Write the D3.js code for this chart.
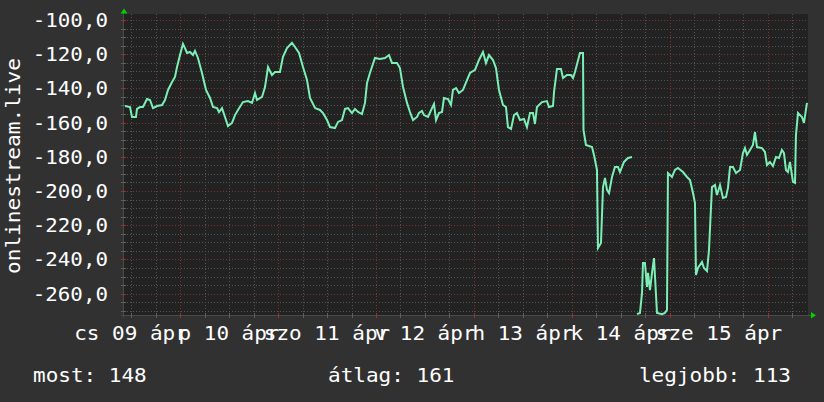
<!DOCTYPE html>
<html><head><meta charset="utf-8">
<script src="https://cdn.jsdelivr.net/npm/d3@7/dist/d3.min.js"></script>
<style>html,body{margin:0;padding:0;background:#313131;}svg{display:block}</style>
</head><body><svg id="c" width="824" height="402"></svg>
<script>
// ---- data ----
const startTime = new Date(2015, 3, 9, 10, 17);
const endTime = new Date(2015, 3, 16, 9, 48);
const hours = [0.24,1.47,1.96,2.94,3.18,3.92,4.65,5.63,6.37,7.10,8.08,9.31,10.04,10.78,11.76,12.49,12.98,13.71,14.45,14.94,15.43,16.16,16.90,17.39,18.12,19.10,20.08,21.06,21.80,22.78,23.27,24.00,24.73,25.47,26.45,27.18,27.92,29.14,30.37,31.35,32.08,32.57,33.80,34.53,35.27,36.24,36.98,38.20,38.94,39.92,41.14,41.88,42.86,43.84,44.82,45.55,46.78,48.00,48.73,49.71,50.45,51.67,52.41,53.39,54.12,54.86,55.84,56.57,57.31,58.29,59.02,59.51,60.24,61.47,62.69,63.92,64.90,65.63,66.86,67.59,68.33,69.31,70.04,70.78,71.76,72.24,72.98,73.47,74.45,75.43,75.92,76.41,77.14,77.88,78.37,79.35,80.08,80.57,81.31,82.04,83.02,84.00,84.73,85.96,86.94,87.92,88.65,89.39,90.37,91.10,91.84,92.82,93.55,94.04,94.78,95.51,96.24,96.98,97.96,98.69,99.43,100.16,100.65,101.14,102.37,103.59,104.08,105.06,105.31,106.04,107.02,107.51,108.49,109.47,109.96,110.45,111.67,112.41,112.53,113.14,114.61,115.10,115.84,116.08,116.82,117.31,117.80,118.29,118.78,119.51,120.24,120.98,121.47,122.45,123.43,124.41,125.0,125.63,126.37,126.86,127.10,127.59,128.08,128.33,128.82,129.31,129.80,130.53,131.76,132.49,132.98,133.22,134.20,134.94,135.67,136.90,137.88,138.61,139.35,139.84,140.08,140.57,141.55,142.04,142.78,143.27,144.00,144.73,145.22,145.96,146.69,147.43,147.92,148.41,149.14,149.88,150.86,151.59,152.08,152.57,153.31,154.04,154.53,155.02,156.24,156.98,157.47,158.20,158.94,159.67,160.41,161.14,161.63,162.12,162.61,163.10,163.84,164.33,164.57,165.06,166.04,166.53,167.27];
const values = [-150.3,-150.9,-156.7,-156.7,-152.0,-150.9,-150.9,-146.2,-146.8,-151.5,-150.3,-149.7,-146.8,-140.9,-136.3,-133.3,-127.5,-120.5,-114.0,-116.4,-119.3,-118.7,-120.5,-118.1,-122.2,-131.0,-140.9,-145.6,-150.9,-151.5,-153.8,-151.5,-156.7,-162.0,-160.2,-155.6,-152.6,-148.0,-147.4,-148.5,-142.7,-146.8,-145.0,-139.2,-127.5,-132.2,-130.4,-130.4,-121.6,-116.4,-113.4,-115.8,-119.3,-127.5,-135.1,-145.6,-151.5,-152.6,-154.4,-158.5,-162.6,-163.2,-159.6,-158.5,-152.0,-151.5,-154.4,-152.0,-153.8,-155.0,-148.5,-136.8,-131.0,-122.2,-122.8,-122.2,-120.5,-125.1,-125.1,-128.1,-139.2,-148.5,-153.8,-158.5,-156.7,-154.4,-153.2,-155.6,-156.7,-151.5,-149.1,-158.5,-154.4,-153.8,-145.6,-146.2,-149.7,-140.9,-139.8,-142.7,-140.9,-135.1,-131.0,-129.2,-123.4,-118.7,-125.1,-120.5,-123.4,-128.1,-140.9,-149.7,-150.9,-162.6,-163.7,-155.6,-154.4,-158.5,-157.9,-162.6,-154.4,-154.4,-160.8,-150.9,-148.0,-147.4,-150.9,-150.3,-142.1,-128.7,-128.7,-133.9,-132.2,-132.2,-133.9,-130.4,-119.3,-119.3,-164.3,-173.1,-174.3,-178.9,-187.7,-233.3,-230.4,-197.7,-192.4,-199.4,-201.2,-191.8,-186.0,-186.0,-188.9,-183.0,-180.7,-180.1,null,-272.0,-271.3,-259.6,-242.1,-242.1,-256.1,-247.9,-257.9,-247.9,-239.2,-271.3,-272.0,-271.3,-269.6,-189.5,-191.8,-187.7,-186.5,-188.9,-191.8,-193.6,-201.2,-207.0,-249.1,-245.0,-241.5,-245.0,-246.8,-234.5,-197.7,-196.5,-202.3,-196.5,-204.1,-203.5,-198.2,-186.0,-186.0,-189.5,-187.7,-177.8,-174.9,-178.9,-176.0,-173.1,-165.5,-174.3,-174.9,-177.2,-184.8,-183.0,-185.4,-180.1,-180.7,-176.0,-177.8,-187.7,-188.9,-183.0,-194.7,-195.3,-167.3,-154.4,-156.7,-160.2,-148.5];
const yTicks = [-260, -240, -220, -200, -180, -160, -140, -120, -100];
const dayLabels = ["cs 09 ápr", "p 10 ápr", "szo 11 ápr", "v 12 ápr", "h 13 ápr", "k 14 ápr", "sze 15 ápr"];
const yTitle = "onlinestream.live";
const legendLabels = ["most", "átlag", "legjobb"];
const legendValues = [148, 161, 113];

// ---- chart ----
const svg = d3.select("#c");
const L = 124, R = 808, T = 14, B = 315;
const x = d3.scaleTime().domain([startTime, endTime]).range([L, R]);
const y = d3.scaleLinear().domain([-272.5, -96.5]).range([B, T]);
const PITCH = 12.8, FS = 19.5, FONT = "DejaVu Sans Mono";
const huLocale = d3.formatLocale({decimal: ",", thousands: " ", grouping: [3], currency: ["", " Ft"], minus: "-"});
const fmt = huLocale.format(".1f");

svg.append("rect").attr("width", 824).attr("height", 402).attr("fill", "#313131");
svg.append("rect").attr("x", L).attr("y", T).attr("width", R - L).attr("height", B - T).attr("fill", "#222222");

const grid = svg.append("g");
const minorY = d3.range(-270, -96, 5).filter(v => v % 20 !== 0);
grid.selectAll(".hmin").data(minorY).join("line")
  .attr("x1", L).attr("x2", R).attr("y1", d => Math.round(y(d)) + 0.5).attr("y2", d => Math.round(y(d)) + 0.5)
  .attr("stroke", "#545454").attr("stroke-dasharray", "1,2");
grid.selectAll(".hmaj").data(yTicks).join("line")
  .attr("x1", L).attr("x2", R).attr("y1", d => Math.round(y(d)) + 0.5).attr("y2", d => Math.round(y(d)) + 0.5)
  .attr("stroke", "#7a3434").attr("stroke-dasharray", "1,2");
const sixH = d3.timeHour.every(6).range(startTime, endTime).filter(d => d.getHours() !== 0);
const days = d3.timeDay.range(startTime, endTime);
grid.selectAll(".vmin").data(sixH).join("line")
  .attr("y1", T).attr("y2", B).attr("x1", d => Math.round(x(d)) + 0.5).attr("x2", d => Math.round(x(d)) + 0.5)
  .attr("stroke", "#545454").attr("stroke-dasharray", "1,2");
grid.selectAll(".vmaj").data(days).join("line")
  .attr("y1", T).attr("y2", B).attr("x1", d => Math.round(x(d)) + 0.5).attr("x2", d => Math.round(x(d)) + 0.5)
  .attr("stroke", "#7a3434").attr("stroke-dasharray", "1,2");

svg.append("line").attr("x1", L - 3).attr("x2", R + 3).attr("y1", B + 0.5).attr("y2", B + 0.5).attr("stroke", "#4a4a4a");
svg.append("line").attr("x1", L - 0.5).attr("x2", L - 0.5).attr("y1", T - 3).attr("y2", B + 3).attr("stroke", "#4a4a4a");
svg.selectAll(".xt").data(sixH).join("line")
  .attr("x1", d => Math.round(x(d)) + 0.5).attr("x2", d => Math.round(x(d)) + 0.5).attr("y1", B - 2).attr("y2", B + 3).attr("stroke", "#606060");
svg.selectAll(".xT").data(days).join("line")
  .attr("x1", d => Math.round(x(d)) + 0.5).attr("x2", d => Math.round(x(d)) + 0.5).attr("y1", B - 2).attr("y2", B + 3).attr("stroke", "#a03030");
svg.selectAll(".yt").data(minorY).join("line")
  .attr("y1", d => Math.round(y(d)) + 0.5).attr("y2", d => Math.round(y(d)) + 0.5).attr("x1", L - 3).attr("x2", L + 2).attr("stroke", "#606060");
svg.selectAll(".yT").data(yTicks).join("line")
  .attr("y1", d => Math.round(y(d)) + 0.5).attr("y2", d => Math.round(y(d)) + 0.5).attr("x1", L - 3).attr("x2", L + 2).attr("stroke", "#a03030");

svg.append("path").attr("d", `M${L - 3.5},${T - 0.5}L${L + 3.5},${T - 0.5}L${L},${T - 5.5}Z`).attr("fill", "#00d000");
svg.append("path").attr("d", `M${R + 3},${B - 3}L${R + 3},${B + 3.5}L${R + 8},${B + 0.25}Z`).attr("fill", "#00d000");

function txt(sel, s) {
  return sel.append("text").text(s).attr("font-family", FONT).attr("font-size", FS).attr("fill", "#ffffff")
    .attr("textLength", s.length * PITCH - 1.5).attr("lengthAdjust", "spacingAndGlyphs");
}
yTicks.forEach(v => {
  txt(svg, fmt(v)).attr("x", 108).attr("y", y(v) + 7).attr("text-anchor", "end");
});
days.concat([d3.timeDay.offset(days[0], -1)]).sort((a, b) => a - b).forEach((d, i) => {
  if (i >= dayLabels.length) return;
  const noon = d3.timeHour.offset(d, 12);
  txt(svg, dayLabels[i]).attr("x", x(noon)).attr("y", 340).attr("text-anchor", "middle");
});
txt(svg, yTitle).attr("transform", "translate(19.5,166) rotate(-90)").attr("text-anchor", "middle");

const line = d3.line().defined((d, i) => values[i] !== null)
  .x((d, i) => x(d3.timeMinute.offset(startTime, Math.round(hours[i] * 60))))
  .y((d, i) => y(values[i]));
svg.append("path").datum(hours).attr("d", line).attr("fill", "none")
  .attr("stroke", "#7cefb6").attr("stroke-width", 2).attr("stroke-linejoin", "miter");

const lx = [33, 328, null];
legendLabels.forEach((l, i) => {
  const s = l + ": " + legendValues[i];
  const t = txt(svg, s).attr("y", 382);
  if (i === 2) t.attr("x", 791).attr("text-anchor", "end"); else t.attr("x", lx[i]);
});
</script></body></html>
